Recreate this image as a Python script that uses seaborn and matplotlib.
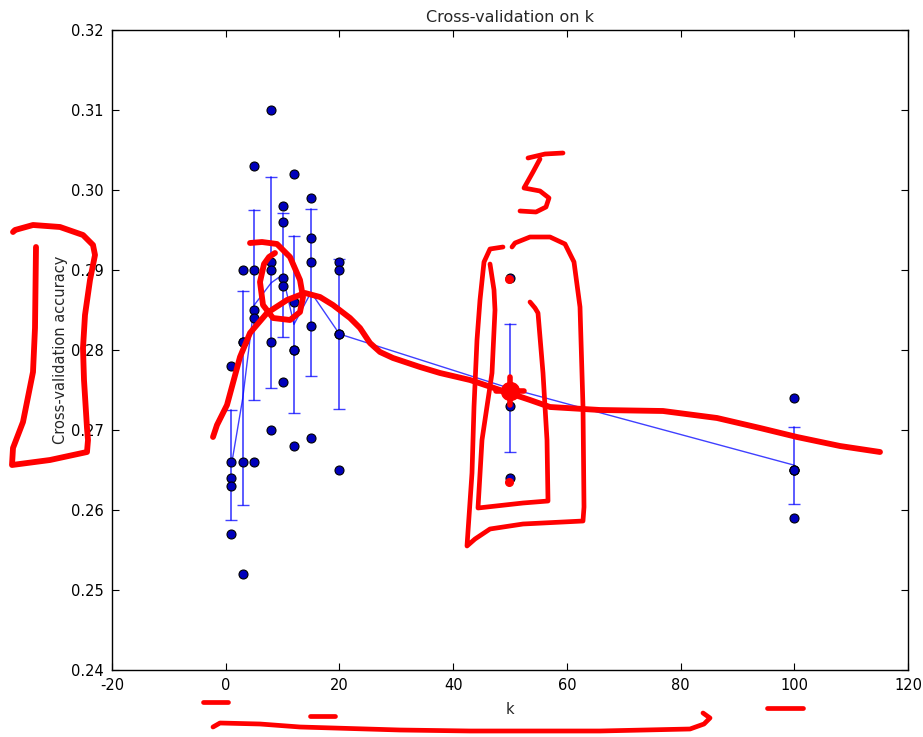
import numpy as np
import pandas as pd
import matplotlib
matplotlib.use("Agg")
import matplotlib.pyplot as plt
import seaborn as sns

# ---- data ----
k_values = [1, 3, 5, 8, 10, 12, 15, 20, 50, 100]
fold_1 = [0.278, 0.290, 0.303, 0.310, 0.298, 0.302, 0.299, 0.291, 0.289, 0.274]
fold_2 = [0.266, 0.281, 0.290, 0.291, 0.296, 0.286, 0.294, 0.290, 0.275, 0.265]
fold_3 = [0.264, 0.281, 0.285, 0.290, 0.289, 0.280, 0.291, 0.282, 0.275, 0.265]
fold_4 = [0.263, 0.266, 0.284, 0.281, 0.288, 0.280, 0.283, 0.282, 0.273, 0.265]
fold_5 = [0.257, 0.252, 0.266, 0.270, 0.276, 0.268, 0.269, 0.265, 0.264, 0.259]

x_ticks = [-20, 0, 20, 40, 60, 80, 100, 120]
y_ticks = [0.24, 0.25, 0.26, 0.27, 0.28, 0.29, 0.30, 0.31, 0.32]

title = "Cross-validation on k"
x_label = "k"
y_label = "Cross-validation accuracy"

rows = []
for fold in (fold_1, fold_2, fold_3, fold_4, fold_5):
    for k, a in zip(k_values, fold):
        rows.append((k, a))
df = pd.DataFrame(rows, columns=["k", "acc"])


def pop_sd(v):
    v = np.asarray(v)
    m, s = v.mean(), v.std(ddof=0)
    return m - s, m + s


sns.set_style("white")
plt.rcParams["font.family"] = ["DejaVu Sans"]
plt.rcParams["font.size"] = 11

W, H = 923, 737
fig = plt.figure(figsize=(W / 100, H / 100), dpi=100)
ax = fig.add_axes([112 / W, 1 - 670 / H, (908 - 112) / W, (670 - 30) / H])

sns.lineplot(data=df, x="k", y="acc", estimator="mean", errorbar=pop_sd,
             err_style="bars", color="#0000ff", lw=1.0, alpha=0.75, ax=ax,
             err_kws={"capsize": 4, "elinewidth": 1.2, "capthick": 1.0})
sns.scatterplot(data=df, x="k", y="acc", color="#0000bb", edgecolor="black",
                linewidth=0.8, s=42, zorder=5, ax=ax, legend=False)

ax.set_xlim(-20, 120)
ax.set_ylim(0.24, 0.32)
ax.set_xticks(x_ticks)
ax.set_yticks(y_ticks)
ax.set_xticklabels([str(t) for t in x_ticks])
ax.set_yticklabels(["%.2f" % t for t in y_ticks])
ax.tick_params(direction="in", length=5, width=0.8, top=True, right=True,
               bottom=True, left=True, labelsize=10.5, colors="black", pad=6)
for sp in ax.spines.values():
    sp.set_color("black")
    sp.set_linewidth(1.0)
ax.set_title(title, fontsize=11.5, pad=6)
ax.set_xlabel(x_label, fontsize=10.5, labelpad=6)
ax.set_ylabel(y_label, fontsize=10.5, labelpad=2)

# ---- hand-drawn red overlay (pixel coordinates of the figure) ----
ov = fig.add_axes([0, 0, 1, 1], zorder=10)
ov.set_xlim(0, W)
ov.set_ylim(H, 0)
ov.axis("off")
ov.patch.set_alpha(0)

red = "#ff0000"
strokes_thick = [
    # bracket around y label
    [(36, 247), (35, 328), (33, 372), (23, 422), (13, 448), (12, 465), (50, 460),
     (87, 452), (88, 440), (87, 428), (84, 380), (83, 348), (85, 315), (90, 280),
     (95, 255), (93, 245), (83, 235), (60, 227), (33, 225), (15, 230), (13, 232)],
    # long curve
    [(213, 437), (217, 425), (227, 405), (240, 357), (250, 333), (267, 313),
     (287, 300), (305, 293), (320, 297), (333, 305), (350, 318), (360, 328),
     (370, 343), (380, 352), (393, 358), (420, 367), (440, 373), (470, 380),
     (500, 390), (530, 400), (550, 407), (600, 410), (663, 411), (717, 418),
     (760, 428), (797, 437), (840, 446), (880, 452)],
    # loop near k=10
    [(250, 243), (262, 242), (277, 244), (290, 257), (300, 280), (303, 297),
     (300, 312), (290, 320), (273, 318), (263, 305), (260, 282), (264, 264),
     (269, 257), (275, 253)],
]
for s in strokes_thick:
    xs, ys = zip(*s)
    ov.plot(xs, ys, color=red, lw=4.2, solid_capstyle="round", solid_joinstyle="round")

strokes_thin = [
    # digit 5
    [(563, 153), (545, 154), (528, 158)],
    [(540, 159), (533, 172), (524, 188), (540, 191), (549, 198), (546, 207),
     (536, 212), (520, 211)],
    # outer loop around k=50
    [(503, 247), (490, 249), (484, 262), (480, 300), (477, 340), (474, 407),
     (472, 473), (467, 546), (475, 539), (490, 529), (523, 524), (583, 521),
     (584, 507), (583, 407), (580, 307), (574, 262), (565, 244), (550, 237),
     (530, 237), (515, 243), (512, 247)],
    # inner loop around k=50
    [(490, 264), (494, 290), (495, 310), (492, 373), (482, 440), (478, 508),
     (523, 503), (548, 501), (547, 440), (543, 373), (538, 313), (535, 308),
     (530, 302)],
    # bottom marks
    [(203, 702), (228, 702)],
    [(310, 716), (335, 716)],
    [(767, 708), (803, 708)],
    [(213, 727), (220, 723), (260, 724), (300, 727), (400, 730), (470, 731),
     (600, 731), (690, 729), (704, 724), (710, 718), (703, 713)],
]
for s in strokes_thin:
    xs, ys = zip(*s)
    ov.plot(xs, ys, color=red, lw=3.4, solid_capstyle="round", solid_joinstyle="round")

# blob and dots at k=50
ov.plot([510], [391], marker="o", ms=13, color=red, mec=red)
ov.plot([510, 510], [377, 405], color=red, lw=4)
ov.plot([496, 524], [391, 391], color=red, lw=4)
ov.plot([509, 509], [279, 482], color=red, lw=0, marker="o", ms=5.5)

fig.savefig("out.png", dpi=100, facecolor="white")
